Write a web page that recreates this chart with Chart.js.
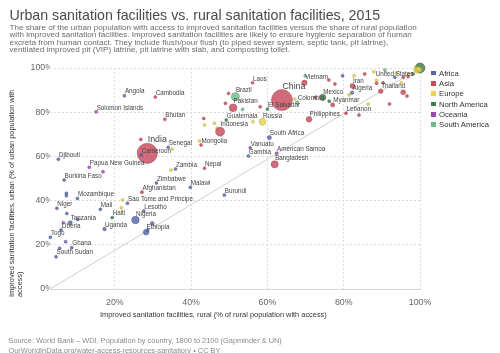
<!DOCTYPE html>
<html>
<head>
<meta charset="utf-8">
<script src="https://cdn.jsdelivr.net/npm/chart.js@4.4.1/dist/chart.umd.min.js"></script>
<style>
  html, body { margin: 0; padding: 0; background: #fff; }
  body { width: 500px; height: 353px; position: relative; overflow: hidden; font-family: "Liberation Sans", Arial, sans-serif; }
  #chart { position: absolute; left: 0; top: 0; }
  #title { position: absolute; left: 9.5px; top: 7.9px; font-size: 14.2px; line-height: 14.2px; color: #4a4a4a; white-space: nowrap; }
  #subtitle { position: absolute; left: 9.5px; top: 23.5px; font-size: 8.1px; line-height: 7.65px; color: #6b6b6b; white-space: nowrap; }
  #footer { position: absolute; left: 8.5px; top: 336px; font-size: 7.4px; line-height: 9.8px; color: #8a8a8a; white-space: nowrap; }
  #legend { position: absolute; left: 431px; top: 68.8px; font-size: 7.7px; color: #333; }
  #legend div { height: 10.34px; line-height: 10.34px; white-space: nowrap; }
  #legend span { display: inline-block; width: 4.5px; height: 4.5px; margin-right: 3.5px; vertical-align: 0.5px; }
</style>
</head>
<body>
<canvas id="chart" width="500" height="353"></canvas>
<div id="title">Urban sanitation facilities vs. rural sanitation facilities, 2015</div>
<div id="subtitle">The share of the urban population with access to improved sanitation facilities versus the share of rural population<br>with improved sanitation facilities. Improved sanitation facilities are likely to ensure hygienic separation of human<br>excreta from human contact. They include flush/pour flush (to piped sewer system, septic tank, pit latrine),<br>ventilated improved pit (VIP) latrine, pit latrine with slab, and composting toilet.</div>
<div id="legend"></div>
<div id="footer">Source: World Bank – WDI, Population by country, 1800 to 2100 (Gapminder &amp; UN)<br>OurWorldInData.org/water-access-resources-sanitation/ • CC BY</div>
<script>
// continents, shown in the legend
const continentNames = ['Africa', 'Asia', 'Europe', 'North America', 'Oceania', 'South America'];
const continentColors = ['#5766a8', '#c84b5c', '#e8d44d', '#3f7a4b', '#a346b5', '#6ebc8c'];

// one entry per country (null = unlabelled)
const countries = [
  'Angola', 'Cambodia', 'Solomon Islands', 'Bhutan', 'India', 'Cameroon', 'Senegal', 'Djibouti',
  'Papua New Guinea', 'Burkina Faso', 'Zambia', 'Zimbabwe', 'Afghanistan', 'Mozambique', 'Niger', 'Mali',
  'Sao Tome and Principe', 'Lesotho', 'Haiti', 'Nigeria', 'Tanzania', 'Liberia', 'Uganda', 'Ethiopia',
  'Togo', 'Ghana', 'South Sudan', 'Laos', 'Vietnam', 'China', 'Brazil', 'Pakistan',
  'El Salvador', 'Colombia', 'Mexico', 'Guatemala', 'Indonesia', 'Russia', 'Philippines', 'South Africa',
  'Mongolia', 'Vanuatu', 'Gambia', 'American Samoa', 'Bangladesh', 'Nepal', 'Malawi', 'Burundi',
  'Iran', 'Algeria', 'Myanmar', 'Lebanon', 'Thailand', 'United States',
  null, null, null, null, null, null, null, null, null, null,
  null, null, null, null, null, null, null, null, null, null,
  null, null, null, null, null, null, null, null, null, null,
  null, null, null, null, null, null, null, null, null, null,
  null, null, null, null, null, null, null, null, null, null,
  null, null, null, null, null, null
];
const continent = [
  'Africa', 'Asia', 'Oceania', 'Asia', 'Asia', 'Africa', 'Africa', 'Africa',
  'Oceania', 'Africa', 'Africa', 'Africa', 'Asia', 'Africa', 'Africa', 'Africa',
  'Africa', 'Africa', 'North America', 'Africa', 'Africa', 'Africa', 'Africa', 'Africa',
  'Africa', 'Africa', 'Africa', 'Asia', 'Asia', 'Asia', 'South America', 'Asia',
  'North America', 'South America', 'North America', 'North America', 'Asia', 'Europe', 'Asia', 'Africa',
  'Asia', 'Oceania', 'Africa', 'Oceania', 'Asia', 'Asia', 'Africa', 'Africa',
  'Asia', 'Africa', 'Asia', 'Asia', 'Asia', 'North America',
  'Asia', 'Europe', 'Oceania', 'Europe', 'Africa', 'Africa', 'Europe', 'Europe', 'Africa', 'Africa',
  'Oceania', 'Africa', 'Africa', 'Africa', 'Africa', 'South America', 'Asia', 'Asia', 'South America', 'Asia',
  'Europe', 'Europe', 'Europe', 'Europe', 'Asia', 'Europe', 'Europe', 'Africa', 'Asia', 'Asia',
  'Asia', 'Asia', 'Europe', 'South America', 'Europe', 'Europe', 'Europe', 'Europe', 'Europe', 'Europe',
  'Europe', 'Africa', 'Asia', 'Asia', 'Asia', 'Asia', 'Asia', 'North America', 'Asia', 'Asia',
  'North America', 'Asia', 'Europe', 'Europe', 'Europe', 'Europe'
];
// improved sanitation, rural (% of rural population)
const rural = [
  22.5, 30.6, 15.1, 33.1, 28.5, 26.9, 34.0, 5.2,
  13.3, 6.7, 35.9, 30.9, 27.1, 10.2, 4.8, 16.2,
  23.3, 27.6, 19.3, 25.4, 8.3, 5.9, 17.3, 28.2,
  3.1, 8.7, 4.6, 56.1, 69.7, 63.8, 51.6, 51.0,
  60.0, 67.8, 74.5, 49.2, 47.6, 58.7, 70.9, 60.5,
  42.6, 55.5, 55.0, 62.4, 61.9, 43.5, 39.8, 48.7,
  82.3, 82.2, 77.1, 80.6, 89.7, 100,
  26.8, 35.1, 16.9, 34.7, 7.3, 7.3, 22.0, 21.7, 7.4, 10.3,
  6.5, 29.8, 28.6, 7.1, 5.5, 69.9, 49.0, 49.8, 53.5, 58.1,
  67.1, 46.1, 43.5, 46.8, 43.3, 56.2, 42.2, 79.7, 85.5, 95.6,
  96.6, 95.6, 95.1, 90.8, 87.9, 82.7, 86.4, 81.4, 93.8, 99.1,
  88.6, 93.4, 92.0, 90.3, 88.6, 77.7, 84.0, 98.2, 96.9, 72.5,
  76.2, 76.1, 99.5, 99.8, 98.9, 97.0
];
// improved sanitation, urban (% of urban population)
const urban = [
  87.5, 86.9, 80.2, 76.8, 61.4, 60.6, 64.1, 58.7,
  55.1, 49.3, 54.3, 48.0, 43.8, 41.0, 36.5, 36.1,
  38.8, 35.3, 32.3, 31.2, 30.0, 26.7, 27.1, 25.7,
  23.4, 18.7, 14.6, 93.3, 93.3, 85.5, 87.0, 82.0,
  81.4, 84.3, 86.7, 76.5, 71.2, 75.7, 76.8, 68.5,
  65.2, 63.9, 60.2, 61.4, 56.4, 54.6, 46.0, 42.5,
  91.9, 88.8, 83.3, 79.5, 89.5, 100,
  67.7, 63.3, 53.1, 53.8, 43.3, 42.2, 40.3, 36.8, 34.2, 31.5,
  30.0, 29.7, 26.7, 21.4, 18.4, 96.5, 84.0, 88.5, 81.3, 82.5,
  86.0, 75.0, 74.2, 72.7, 77.2, 75.7, 67.0, 96.5, 97.3, 89.0,
  87.3, 95.8, 93.3, 99.1, 98.3, 96.5, 83.7, 87.8, 97.6, 98.3,
  94.5, 95.8, 83.7, 93.3, 93.1, 92.8, 78.7, 97.3, 96.1, 86.7,
  85.0, 94.6, 99.5, 99.2, 99.6, 97.3
];
// population, millions (bubble size)
const population = [
  28, 15.5, 0.6, 0.8, 1310, 23, 15, 0.9,
  7.9, 18, 16, 15.6, 33, 28, 20, 17.5,
  0.2, 2.1, 10.7, 181, 53, 4.5, 40, 99,
  7.3, 27, 12, 6.8, 93, 1397, 206, 189,
  6.3, 48, 125, 16, 258, 144, 101, 55,
  3, 0.26, 2, 0.06, 161, 28.5, 17.5, 10,
  79, 40, 53, 6, 68, 320,
  1, 1, 1, 1, 1, 1, 1, 1, 1, 2,
  1, 46, 25, 1, 1, 1, 1, 1, 2, 1,
  1, 1, 1, 1, 1, 1, 1, 2, 30, 78,
  5, 20, 3, 3, 3, 1, 1, 1, 2, 5,
  2, 11, 1, 1, 1, 1, 1, 3, 3, 2,
  3, 1, 60, 80, 65, 5
];
const xTicks = [20, 40, 60, 80, 100];
const yTicks = [0, 20, 40, 60, 80, 100];
const diagonalX = [3, 100];
const diagonalY = [0, 100];

const FONT = '"Liberation Sans", Arial, sans-serif';

function hexToRgba(hex, a) {
  const n = parseInt(hex.slice(1), 16);
  return `rgba(${(n >> 16) & 255},${(n >> 8) & 255},${n & 255},${a})`;
}
function darker(hex, f) {
  const n = parseInt(hex.slice(1), 16);
  const c = [(n >> 16) & 255, (n >> 8) & 255, n & 255].map(v => Math.round(v * f));
  return `rgba(${c[0]},${c[1]},${c[2]},0.9)`;
}

// build one dataset per continent, biggest bubbles first
const datasets = continentNames.map((name, ci) => {
  const idx = countries.map((c, i) => i).filter(i => continent[i] === name)
    .sort((a, b) => population[b] - population[a]);
  return {
    label: name,
    data: idx.map(i => ({ x: rural[i], y: urban[i], r: Math.max(1.5, 0.28 * Math.sqrt(population[i])) })),
    names: idx.map(i => countries[i]),
    backgroundColor: hexToRgba(continentColors[ci], 0.82),
    borderColor: darker(continentColors[ci], 0.75),
    borderWidth: 0.5,
    clip: false,
    order: 1
  };
});

datasets.push({
  type: 'line',
  label: 'diagonal',
  data: diagonalX.map((x, i) => ({ x: x, y: diagonalY[i] })),
  borderColor: '#cfcfcf',
  borderWidth: 1,
  pointRadius: 0,
  fill: false,
  order: 5
});

// country names next to their bubbles
const labelPlugin = {
  id: 'countryLabels',
  afterDatasetsDraw(chart) {
    const ctx = chart.ctx;
    ctx.save();
    ctx.fillStyle = '#444';
    ctx.textBaseline = 'middle';
    chart.data.datasets.forEach((ds, di) => {
      if (!ds.names) return;
      const meta = chart.getDatasetMeta(di);
      meta.data.forEach((el, i) => {
        const name = ds.names[i];
        if (!name) return;
        const r = ds.data[i].r;
        const big = r > 8;
        ctx.font = (big ? 8.8 : 6.3) + 'px ' + FONT;
        if (name === 'United States') {
          ctx.textAlign = 'right';
          ctx.fillText(name, el.x - r - 1.5, el.y + r + 1.5);
        } else {
          ctx.textAlign = 'left';
          ctx.fillText(name, el.x + 0.5, el.y - r - (big ? 3.5 : 2.5));
        }
      });
    });
    ctx.restore();
  }
};

// axis titles
const axisTitlePlugin = {
  id: 'axisTitles',
  afterDraw(chart) {
    const ctx = chart.ctx;
    ctx.save();
    ctx.fillStyle = '#333';
    ctx.font = '7.4px ' + FONT;
    ctx.textBaseline = 'middle';
    ctx.textAlign = 'left';
    ctx.fillText('Improved sanitation facilities, rural (% of rural population with access)', 100, 315);
    ctx.translate(12.3, 297);
    ctx.rotate(-Math.PI / 2);
    ctx.fillText('Improved sanitation facilities, urban (% of urban population with', 0, 0);
    ctx.fillText('access)', 0, 7.7);
    ctx.restore();
  }
};

new Chart(document.getElementById('chart'), {
  type: 'bubble',
  data: { datasets: datasets },
  options: {
    responsive: false,
    animation: false,
    events: [],
    layout: { padding: { left: 0, top: 68, right: 80, bottom: 34 } },
    plugins: { legend: { display: false }, tooltip: { enabled: false } },
    scales: {
      x: {
        type: 'linear', min: 3, max: 100,
        afterBuildTicks: s => { s.ticks = xTicks.map(v => ({ value: v })); },
        afterFit: s => { s.height = 30; },
        ticks: { callback: v => v + '%', color: '#666', font: { size: 8.8, family: FONT }, padding: 8, maxRotation: 0 },
        grid: { color: '#dcdcdc', lineWidth: 1, drawTicks: false },
        border: { display: true, color: '#d5d5d5', width: 1, dash: [2, 2] }
      },
      y: {
        type: 'linear', min: 0, max: 100,
        afterBuildTicks: s => { s.ticks = yTicks.map(v => ({ value: v })); },
        afterFit: s => { s.width = 50; },
        ticks: { callback: v => v + '%', color: '#666', font: { size: 8.8, family: FONT }, padding: -3 },
        grid: { color: c => (c.tick && c.tick.value === 0) ? 'rgba(0,0,0,0)' : '#dcdcdc', lineWidth: 1, drawTicks: false },
        border: { display: false, dash: [2, 2] }
      }
    }
  },
  plugins: [labelPlugin, axisTitlePlugin]
});

// legend
const legend = document.getElementById('legend');
continentNames.forEach((name, i) => {
  const row = document.createElement('div');
  row.innerHTML = `<span style="background:${continentColors[i]}"></span>${name}`;
  legend.appendChild(row);
});
</script>
</body>
</html>
